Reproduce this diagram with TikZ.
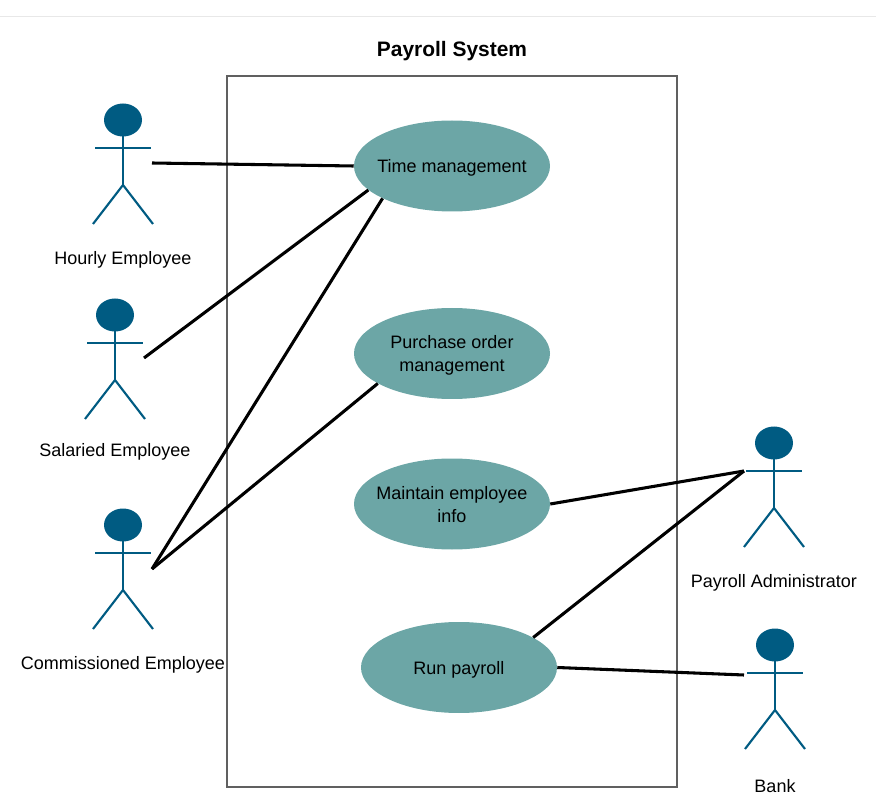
\documentclass[tikz,border=0pt]{standalone}
\usepackage{fontspec}
\setmainfont{Liberation Sans}
\usetikzlibrary{shapes.geometric}
\definecolor{actorc}{HTML}{005B82}
\definecolor{usec}{HTML}{6CA6A6}
\definecolor{framec}{HTML}{606060}
\definecolor{rulec}{HTML}{E8E8E8}
\newcommand{\pxu}{*0.75pt}
\tikzset{
  usecase/.style={ellipse,fill=usec,minimum width=196\pxu,minimum height=91\pxu,inner sep=0pt},
  uselabel/.style={inner sep=0pt,align=center,yshift=-1.5pt,font=\fontsize{13.5pt}{17.25pt}\selectfont},
  actorlabel/.style={inner sep=0pt,font=\fontsize{13.5pt}{17.25pt}\selectfont},
  titlelabel/.style={inner sep=0pt,font=\fontsize{15.7pt}{18pt}\selectfont\bfseries},
  framebox/.style={draw=framec,line width=0.85pt,minimum width=450\pxu,minimum height=711\pxu,inner sep=0pt},
  limb/.style={draw=actorc,line width=1.6pt},
  headshape/.style={ellipse,fill=actorc,minimum width=38\pxu,minimum height=33\pxu,inner sep=0pt},
  assoc/.style={draw=black,line width=2.3pt}
}
\newcommand{\actorfig}[3]{% name, cx, cy
  \node[headshape] (#1) at (#2,#3) {};
  \draw[limb] (#2,#3+16) -- (#2,#3+65);
  \draw[limb] (#2-28,#3+28) -- (#2+28,#3+28);
  \draw[limb] (#2-30,#3+104) -- (#2,#3+65) -- (#2+30,#3+104);
}
\begin{document}
\begin{tikzpicture}[x=0.75pt,y=-0.75pt]
\useasboundingbox (0,0) rectangle (876,806);
\draw[rulec,line width=0.75pt] (0,17) -- (876,17);
\node[titlelabel] (title) at (452,51) {Payroll System};
\node[framebox] (sys) at (452,431.5) {};
\actorfig{hourly}{123}{120}
\actorfig{salaried}{115}{315}
\actorfig{commissioned}{123}{525}
\actorfig{admin}{774}{443}
\actorfig{bank}{775}{645}
\node[actorlabel] (hourlyl) at (123,260) {Hourly Employee};
\node[actorlabel] (salariedl) at (115,452) {Salaried Employee};
\node[actorlabel] (commissionedl) at (123,665) {Commissioned Employee};
\node[actorlabel] (adminl) at (774,583) {Payroll Administrator};
\node[actorlabel] (bankl) at (775,786) {Bank};
\node[usecase] (time) at (452,166) {};
\node[uselabel] (timel) at (time) {Time management};
\node[usecase] (purchase) at (452,353.5) {};
\node[uselabel] (purchasel) at (purchase) {Purchase order\\management};
\node[usecase] (maintain) at (452,504) {};
\node[uselabel] (maintainl) at ([yshift=0.75pt]maintain.center) {Maintain employee\\info};
\node[usecase] (run) at (459,667.5) {};
\node[uselabel] (runl) at (run) {Run payroll};
\coordinate (hourlyend) at (152,163);
\coordinate (salariedend) at (144,358);
\coordinate (commend) at (152,569);
\coordinate (adminend) at (744,471);
\coordinate (bankend) at (744,675);
\draw[assoc] (hourlyend) -- (time.west);
\draw[assoc] (salariedend) -- (time.196);
\draw[assoc] (commend) -- (time.205);
\draw[assoc] (commend) -- (purchase.202);
\draw[assoc] (maintain.east) -- (adminend);
\draw[assoc] (run.22) -- (adminend);
\draw[assoc] (run.east) -- (bankend);
\end{tikzpicture}
\end{document}
